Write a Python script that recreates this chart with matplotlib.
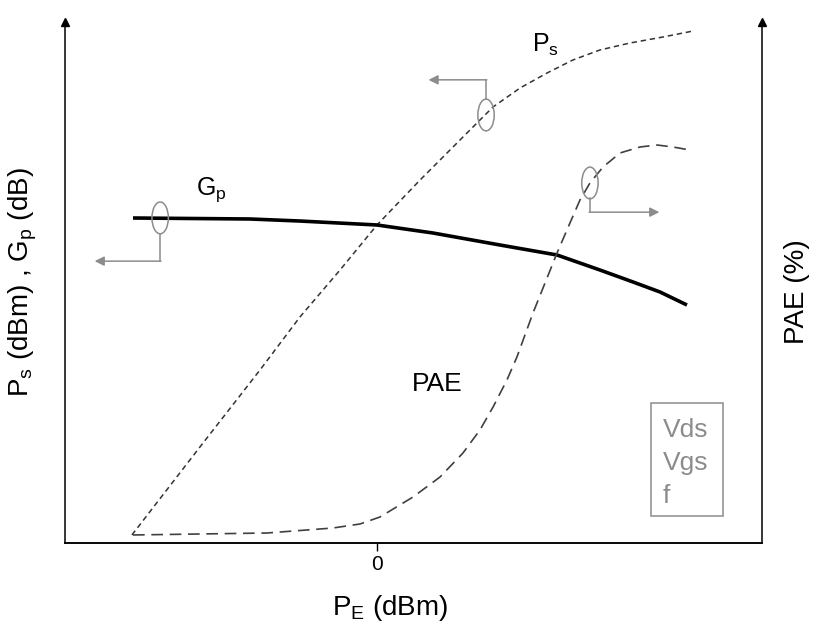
import matplotlib
matplotlib.use('Agg')
import matplotlib.pyplot as plt
from matplotlib.patches import Ellipse, Rectangle

plt.rcParams['font.family'] = ['Liberation Sans', 'DejaVu Sans']

# P_s curve (output power)
ps_x = [-15.71, -11.35, -7.5, -4.94, -2.37, 0.0, 2.76, 5.32, 6.60, 7.44, 9.17, 10.90,
        12.56, 14.29, 16.22, 18.33, 20.26]
ps_y = [1.54, 18.43, 33.21, 43.38, 52.40, 61.04, 69.67, 77.35, 81.19, 83.69, 87.33, 90.21,
        92.71, 94.63, 95.97, 97.12, 98.27]

# G_p curve (power gain)
gp_x = [-15.64, -8.14, -4.94, 0.0, 3.59, 7.88, 11.54, 14.29, 16.41, 18.14, 19.87]
gp_y = [62.38, 62.19, 61.80, 61.04, 59.50, 57.20, 55.28, 52.40, 50.10, 48.18, 45.68]

# PAE curve (right axis)
pae_x = [-15.64, -11.35, -7.05, -2.82, -1.09, 0.19, 2.31, 4.04, 5.51, 6.60, 7.44, 8.33,
         8.97, 10.0, 10.77, 11.54, 12.37, 13.01, 13.65, 14.49, 15.58, 16.86, 17.95,
         18.97, 20.06]
pae_y = [1.54, 1.73, 1.92, 2.88, 3.65, 4.99, 8.83, 12.67, 17.27, 21.69, 26.10, 31.29,
         35.70, 44.15, 49.90, 55.66, 61.42, 65.83, 69.10, 72.17, 74.86, 76.01, 76.39,
         76.01, 75.43]

conditions = ['Vds', 'Vgs', 'f']

fig = plt.figure(figsize=(8.15, 6.3), dpi=100)
ax = fig.add_axes([65 / 815, 87 / 630, 697 / 815, 521 / 630])
ax2 = ax.twinx()

for a in (ax, ax2):
    a.set_xlim(-20, 24.68)
    a.set_ylim(0, 100)
    a.spines['top'].set_visible(False)
    for s in a.spines.values():
        s.set_linewidth(1.1)
    a.set_yticks([])

ax.spines['right'].set_visible(False)
ax2.spines['left'].set_visible(False)

ax.set_xticks([0])
ax.tick_params(axis='x', length=6, width=1, direction='out', pad=3, labelsize=15)
ax.set_xticklabels(['0'])

# arrow heads on vertical axes
ax.plot([0, 1], [1, 1], '^', color='black', markersize=6, transform=ax.transAxes, clip_on=False)

ax.plot(ps_x, ps_y, color='#333333', lw=1.1, dashes=(3.5, 2.5))
ax.plot(gp_x, gp_y, color='black', lw=2.6, solid_capstyle='butt')
ax2.plot(pae_x, pae_y, color='#404040', lw=1.2, dashes=(7, 4))

gray = '#8c8c8c'
# markers linking curves to their axes
for cx, cy in [(-13.9, 62.4), (6.99, 82.15), (13.65, 69.1)]:
    ax2.add_patch(Ellipse((cx, cy), 1.05, 6.1, fill=False, ec=gray, lw=1.1, zorder=4))

arrow = dict(arrowstyle='-|>', color=gray, lw=1.1, shrinkA=0, shrinkB=0, mutation_scale=14)
ax2.plot([-13.9, -13.9], [59.35, 54.1], color=gray, lw=1.1)
ax2.annotate('', xy=(-18.1, 54.1), xytext=(-13.85, 54.1), arrowprops=arrow)
ax2.plot([6.99, 6.99], [85.2, 88.9], color=gray, lw=1.1)
ax2.annotate('', xy=(3.3, 88.9), xytext=(7.04, 88.9), arrowprops=arrow)
ax2.plot([13.65, 13.65], [66.15, 63.5], color=gray, lw=1.1)
ax2.annotate('', xy=(18.1, 63.5), xytext=(13.6, 63.5), arrowprops=arrow)

ax2.text(-11.6, 66.8, r'G$_\mathregular{p}$', fontsize=18, ha='left', va='baseline')
ax2.text(9.94, 94.2, r'P$_\mathregular{s}$', fontsize=18, ha='left', va='baseline')
ax2.text(2.24, 29.2, 'PAE', fontsize=19, ha='left', va='baseline')

# bias / frequency box
ax2.add_patch(Rectangle((0.8407, 0.0518), 0.1033, 0.2169, transform=ax2.transAxes,
                        fill=False, ec=gray, lw=1.1))
for i, t in enumerate(conditions):
    ax2.text(0.858, 0.2035 - i * 0.0634, t, transform=ax2.transAxes, fontsize=19,
             color=gray, va='baseline', ha='left')

fig.text(390 / 815, 1 - 608 / 630, r'P$_\mathregular{E}$ (dBm)', fontsize=20,
         ha='center', va='center')
fig.text(23 / 815, 1 - 282 / 630, r'P$_\mathregular{s}$ (dBm) , G$_\mathregular{p}$ (dB)',
         fontsize=20, rotation=90, ha='center', va='center')
fig.text(797 / 815, 1 - 292 / 630, 'PAE (%)', fontsize=20, rotation=90,
         ha='center', va='center')

plt.savefig('out.png', dpi=100)
